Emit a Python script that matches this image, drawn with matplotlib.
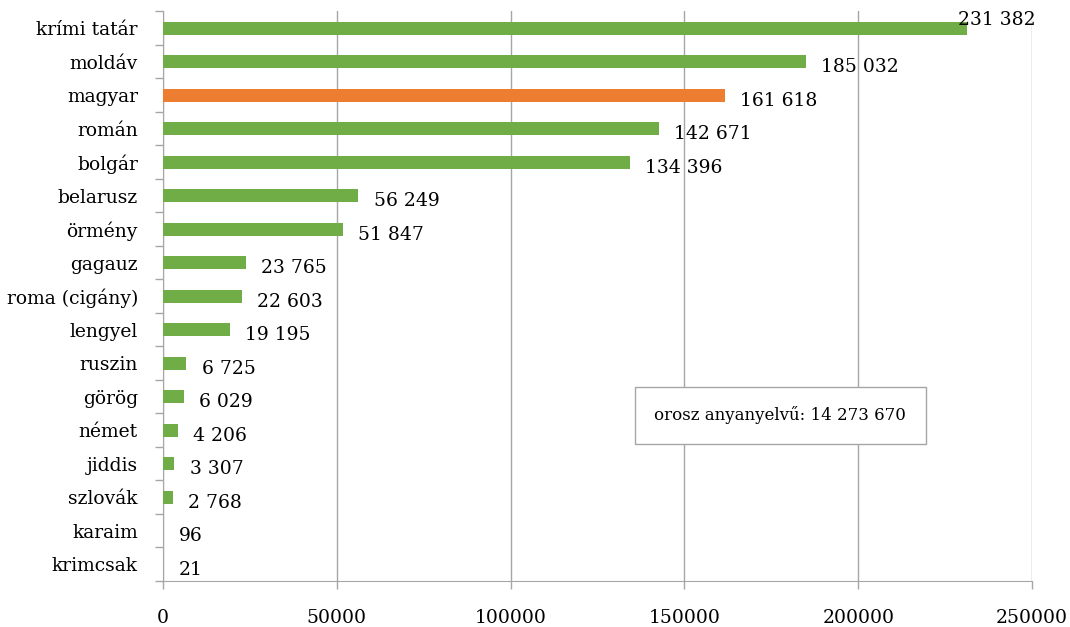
import matplotlib.pyplot as plt
import numpy as np

categories = ['krími tatár', 'moldáv', 'magyar', 'román', 'bolgár', 'belarusz',
              'örmény', 'gagauz', 'roma (cigány)', 'lengyel', 'ruszin', 'görög',
              'német', 'jiddis', 'szlovák', 'karaim', 'krimcsak']
values = [231382, 185032, 161618, 142671, 134396, 56249, 51847, 23765, 22603,
          19195, 6725, 6029, 4206, 3307, 2768, 96, 21]
highlight = 'magyar'
russian_label = 'orosz anyanyelvű: 14 273 670'
xticks = [0, 50000, 100000, 150000, 200000, 250000]

green = '#70AD47'
orange = '#ED7D31'
grid_gray = '#A6A6A6'

plt.rcParams['font.family'] = ['DejaVu Serif']
fs = 13.5

fig = plt.figure(figsize=(10.7, 6.27), dpi=100)
ax = fig.add_axes([0.1523, 0.0734, 0.8122, 0.9083])

n = len(categories)
pos = np.arange(n)
colors = [orange if c == highlight else green for c in categories]
ax.barh(pos, values, height=0.38, color=colors, zorder=3)

ax.set_ylim(n - 0.5, -0.5)
ax.set_xlim(0, 250000)
ax.set_xticks(xticks)
ax.set_xticklabels([str(t) for t in xticks], fontsize=fs)
ax.set_yticks(pos)
ax.set_yticklabels(categories, fontsize=fs)
ax.set_yticks(np.arange(n + 1) - 0.5, minor=True)
ax.tick_params(axis='y', which='major', length=0, pad=18)
ax.tick_params(axis='y', which='minor', length=6, color=grid_gray, width=1)
ax.tick_params(axis='x', length=6, color=grid_gray, width=1, pad=14)

ax.grid(axis='x', color=grid_gray, linewidth=1, zorder=0)
for s in ['top', 'right']:
    ax.spines[s].set_visible(False)
ax.spines['left'].set_color(grid_gray)
ax.spines['bottom'].set_color(grid_gray)

def fmt(v):
    return f'{v:,}'.replace(',', ' ')

for i, v in enumerate(values):
    if i == 0:
        ax.annotate(fmt(v), (v, i), xytext=(-7, 6), textcoords='offset points',
                    va='center', ha='left', fontsize=fs)
    else:
        ax.annotate(fmt(v), (v, i), xytext=(11, -4), textcoords='offset points',
                    va='center', ha='left', fontsize=fs)

ax.text(0.7105, 0.2906, russian_label, transform=ax.transAxes, ha='center',
        va='center', fontsize=fs - 1.5, zorder=5,
        bbox=dict(boxstyle='square,pad=1.15', fc='white', ec=grid_gray, lw=1))

fig.savefig('out.png', dpi=100)
